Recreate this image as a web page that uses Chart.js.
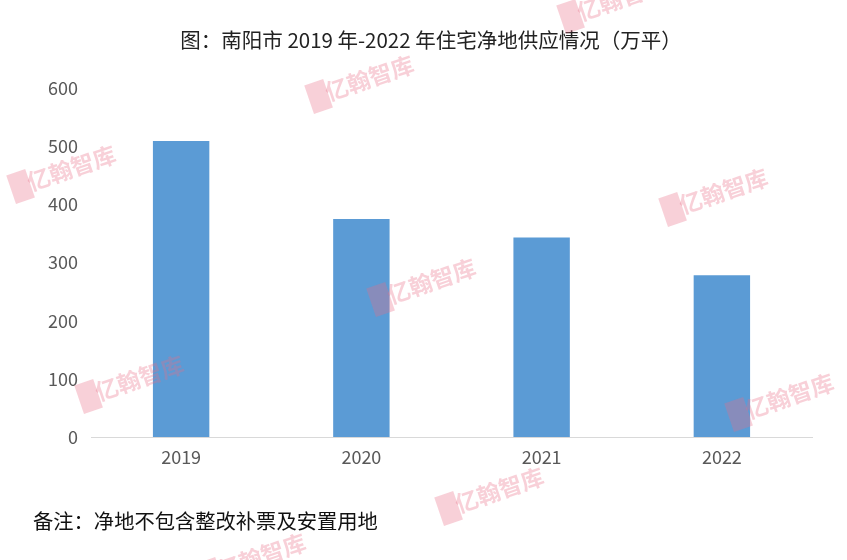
<!DOCTYPE html>
<html>
<head>
<meta charset="utf-8">
<script src="https://cdn.jsdelivr.net/npm/chart.js@4.4.0/dist/chart.umd.min.js"></script>
<style>
html,body{margin:0;padding:0;background:#fff;}
#wrap{position:relative;width:847px;height:560px;}
</style>
</head>
<body>
<div id="wrap"><canvas id="c" width="847" height="560"></canvas></div>
<script>
const categories = ["2019", "2020", "2021", "2022"];
const supplyValues = [509, 375, 343, 278];
const yTicks = [0, 100, 200, 300, 400, 500, 600];
const titleText = "图：南阳市 2019 年-2022 年住宅净地供应情况（万平）";
const noteText = "备注：净地不包含整改补票及安置用地";
const watermarkText = "亿翰智库";
const watermarkSpots = [[358, 82], [60, 172], [712, 195], [420, 285], [128, 382], [778, 400], [488, 494], [610, 2], [250, 560]];

const FONT = "'Noto Sans CJK SC', 'Noto Sans', sans-serif";

const extras = {
  id: 'extras',
  afterDraw(chart) {
    const ctx = chart.ctx;
    ctx.save();
    ctx.fillStyle = '#222';
    ctx.font = '20.5px ' + FONT;
    ctx.textAlign = 'center';
    ctx.textBaseline = 'middle';
    ctx.fillText(titleText, 431, 40);
    ctx.fillStyle = '#111';
    ctx.font = '20.3px ' + FONT;
    ctx.textAlign = 'left';
    ctx.fillText(noteText, 33, 521);
    // watermarks
    ctx.fillStyle = 'rgba(232,110,135,0.32)';
    ctx.font = 'bold 23px ' + FONT;
    ctx.textAlign = 'center';
    for (const [x, y] of watermarkSpots) {
      ctx.save();
      ctx.translate(x, y);
      ctx.rotate(-0.33);
      ctx.fillText(watermarkText, 12, 0);
      ctx.fillRect(-52, -14, 20, 30);
      ctx.restore();
    }
    ctx.restore();
  }
};

new Chart(document.getElementById('c'), {
  type: 'bar',
  data: {
    labels: categories,
    datasets: [{
      data: supplyValues,
      backgroundColor: '#5B9BD5',
      borderWidth: 0,
      categoryPercentage: 1,
      barPercentage: 0.313
    }]
  },
  options: {
    responsive: false,
    animation: false,
    layout: { padding: { top: 88, right: 35, bottom: 0, left: 0 } },
    plugins: { legend: { display: false }, tooltip: { enabled: false }, title: { display: false } },
    scales: {
      x: {
        grid: { display: false, drawTicks: false },
        border: { display: true, color: '#D9D9D9', width: 1 },
        ticks: { color: '#595959', font: { family: FONT, size: 18 }, padding: 9 },
        afterFit(s) { s.height = 123; }
      },
      y: {
        min: 0, max: 600,
        grid: { display: false, drawTicks: false },
        border: { display: false },
        afterBuildTicks(s) { s.ticks = yTicks.map(v => ({ value: v })); },
        ticks: { color: '#595959', font: { family: FONT, size: 18 }, padding: 13 },
        afterFit(s) { s.width = 91; }
      }
    }
  },
  plugins: [extras]
});
</script>
</body>
</html>
